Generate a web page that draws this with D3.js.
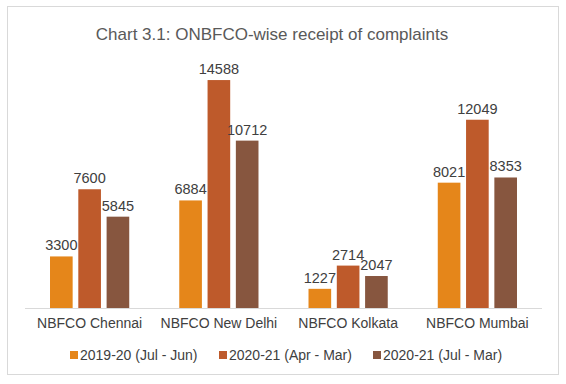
<!DOCTYPE html>
<html>
<head>
<meta charset="utf-8">
<script src="https://cdn.jsdelivr.net/npm/d3@7"></script>
<style>
  body { margin: 0; background: #fff; }
  text { font-family: "Liberation Sans", Arial, sans-serif; }
</style>
</head>
<body>
<svg width="566" height="384"></svg>
<script>
var categories = ["NBFCO Chennai", "NBFCO New Delhi", "NBFCO Kolkata", "NBFCO Mumbai"];
var seriesNames = ["2019-20 (Jul - Jun)", "2020-21 (Apr - Mar)", "2020-21 (Jul - Mar)"];
var s2019 = [3300, 6884, 1227, 8021];
var s2020AprMar = [7600, 14588, 2714, 12049];
var s2020JulMar = [5845, 10712, 2047, 8353];
var colors = ["#E5861A", "#BE5A2B", "#87563F"];

var series = [s2019, s2020AprMar, s2020JulMar];

var svg = d3.select("svg"),
    width = +svg.attr("width"),
    height = +svg.attr("height");

// frame
svg.append("rect")
    .attr("x", 7.5).attr("y", 6.5)
    .attr("width", 551).attr("height", 368)
    .attr("fill", "#fff")
    .attr("stroke", "#d9d9d9");

svg.append("text")
    .attr("x", 272).attr("y", 40)
    .attr("text-anchor", "middle")
    .attr("font-size", "17px")
    .attr("fill", "#595959")
    .text("Chart 3.1: ONBFCO-wise receipt of complaints");

var x0 = d3.scaleBand()
    .domain(categories)
    .range([25, 542])
    .paddingInner(0.387)
    .paddingOuter(0.1935);

var x1 = d3.scaleBand()
    .domain(d3.range(series.length))
    .range([0, x0.bandwidth()])
    .paddingInner(0.2);

var y = d3.scaleLinear()
    .domain([0, 16000])
    .range([308, 58]);

var groups = svg.append("g").selectAll("g")
  .data(categories)
  .enter().append("g")
    .attr("transform", function(d) { return "translate(" + x0(d) + ",0)"; });

groups.selectAll("rect")
  .data(function(d, i) { return series.map(function(s, j) { return {k: j, v: s[i]}; }); })
  .enter().append("rect")
    .attr("x", function(d) { return x1(d.k); })
    .attr("y", function(d) { return y(d.v); })
    .attr("width", x1.bandwidth())
    .attr("height", function(d) { return y(0) - y(d.v); })
    .attr("fill", function(d) { return colors[d.k]; });

groups.selectAll("text")
  .data(function(d, i) { return series.map(function(s, j) { return {k: j, v: s[i]}; }); })
  .enter().append("text")
    .attr("x", function(d) { return x1(d.k) + x1.bandwidth() / 2; })
    .attr("y", function(d) { return y(d.v) - 6; })
    .attr("text-anchor", "middle")
    .attr("font-size", "14.5px")
    .attr("fill", "#404040")
    .text(function(d) { return d.v; });

// baseline
svg.append("line")
    .attr("x1", 25).attr("x2", 542)
    .attr("y1", y(0) + 0.5).attr("y2", y(0) + 0.5)
    .attr("stroke", "#d9d9d9");

var xAxis = svg.append("g")
    .attr("transform", "translate(0," + y(0) + ")")
    .call(d3.axisBottom(x0).tickSize(0).tickPadding(10));
xAxis.select(".domain").remove();
xAxis.selectAll("text")
    .attr("font-size", "14px")
    .attr("fill", "#404040")
    .attr("font-family", "Liberation Sans, Arial, sans-serif");

// legend
var legendX = [70, 219, 373];
var legend = svg.append("g").selectAll("g")
  .data(seriesNames)
  .enter().append("g")
    .attr("transform", function(d, i) { return "translate(" + legendX[i] + ",351)"; });
legend.append("rect")
    .attr("width", 8).attr("height", 8)
    .attr("fill", function(d, i) { return colors[i]; });
legend.append("text")
    .attr("x", 10).attr("y", 8.5)
    .attr("font-size", "14px")
    .attr("fill", "#404040")
    .text(function(d) { return d; });
</script>
</body>
</html>
